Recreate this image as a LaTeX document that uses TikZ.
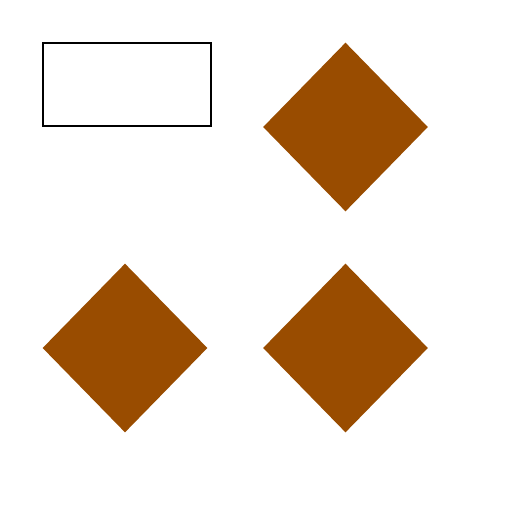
\documentclass[tikz,border=0pt]{standalone}
\usetikzlibrary{shapes.geometric}
\definecolor{rust}{RGB}{153,76,0}
\tikzset{
  box/.style={draw, line width=0.6pt, minimum width=3.36cm, minimum height=1.66cm, inner sep=0pt},
  gem/.style={diamond, fill=rust, draw=none, minimum width=3.3cm, minimum height=3.38cm, inner sep=0pt}
}
\begin{document}
\begin{tikzpicture}[x=0.02cm, y=-0.02cm]
			\useasboundingbox (0,0) rectangle (512,512);
			\node[box] (frame) at (127,84.5) {};
			\node[gem] (gemA) at (345.5,127) {};
			\node[gem] (gemB) at (125,348) {};
			\node[gem] (gemC) at (345.5,348) {};
		\end{tikzpicture}
\end{document}
